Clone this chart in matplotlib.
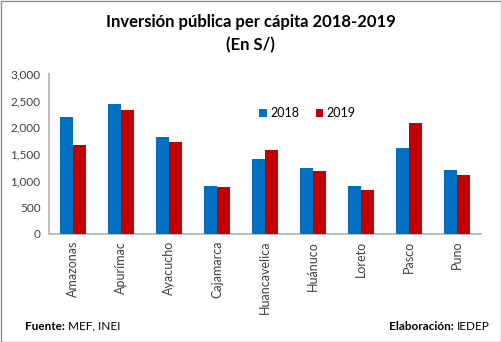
import matplotlib
matplotlib.use("Agg")
import matplotlib.pyplot as plt
import numpy as np
from matplotlib.patches import Rectangle
from matplotlib.transforms import offset_copy

plt.rcParams['font.family'] = ['Lato', 'DejaVu Sans']

categories = ["Amazonas", "Apurímac", "Ayacucho", "Cajamarca", "Huancavelica",
              "Huánuco", "Loreto", "Pasco", "Puno"]
v2018 = [2190, 2440, 1815, 895, 1405, 1230, 900, 1620, 1200]
v2019 = [1675, 2320, 1725, 880, 1575, 1185, 825, 2075, 1100]
yticks = [0, 500, 1000, 1500, 2000, 2500, 3000]
series_labels = ["2018", "2019"]

W, H = 501, 342
fig = plt.figure(figsize=(W/100, H/100), dpi=100)
ax = fig.add_axes([49/W, 1-234/H, (481-49)/W, 160/H])

x = np.arange(len(categories))
bw = 0.278
c1, c2 = "#0070C0", "#C00000"
ax.bar(x - bw/2, v2018, bw, color=c1, label=series_labels[0], zorder=3)
ax.bar(x + bw/2, v2019, bw, color=c2, label=series_labels[1], zorder=3)

ax.set_xlim(-0.5, len(categories) - 0.5)
ax.set_ylim(0, 3000)
ax.set_yticks(yticks)
ax.set_yticklabels([f"{t:,}" for t in yticks], fontsize=8.5, color="#404040")
ax.set_xticks(x)
ax.set_xticklabels(categories, rotation=90, fontsize=9, color="#404040")
ax.tick_params(axis='y', length=0, pad=6)
ax.tick_params(axis='x', length=0, pad=5)
for s in ["top", "right"]:
    ax.spines[s].set_visible(False)
for s in ["left", "bottom"]:
    ax.spines[s].set_color("#BFBFBF")
    ax.spines[s].set_linewidth(1.5)

leg = ax.legend(loc="center left", bbox_to_anchor=(210/432, 1 - 39/160), ncol=2,
                frameon=False, fontsize=9, handlelength=0.6, handleheight=0.6,
                columnspacing=1.3, handletextpad=0.3, borderpad=0, borderaxespad=0)

fig.text(0.5, 1-22/H, "Inversión pública per cápita 2018-2019", ha="center", va="center",
         fontsize=12, fontweight="bold", color="black")
fig.text(0.5, 1-45/H, "(En S/)", ha="center", va="center",
         fontsize=12, fontweight="bold", color="black")

fig.canvas.draw()
r = fig.canvas.get_renderer()
t1 = fig.text(25/W, 1-326/H, "Fuente:", ha="left", va="center", fontsize=8.5, fontweight="bold")
bb = t1.get_window_extent(r)
fig.text(bb.x1 / W + 3/W, 1-326/H, "MEF, INEI", ha="left", va="center", fontsize=8.5)

t2 = fig.text(490/W, 1-326/H, "IEDEP", ha="right", va="center", fontsize=8.5)
bb2 = t2.get_window_extent(r)
fig.text(bb2.x0 / W - 3/W, 1-326/H, "Elaboración:", ha="right", va="center",
         fontsize=8.5, fontweight="bold")

fig.patches.append(Rectangle((0.5/W, 0.5/H), 1-1/W, 1-1/H, transform=fig.transFigure,
                             fill=False, edgecolor="#8C8C8C", linewidth=1))

fig.savefig("out.png", dpi=100)
